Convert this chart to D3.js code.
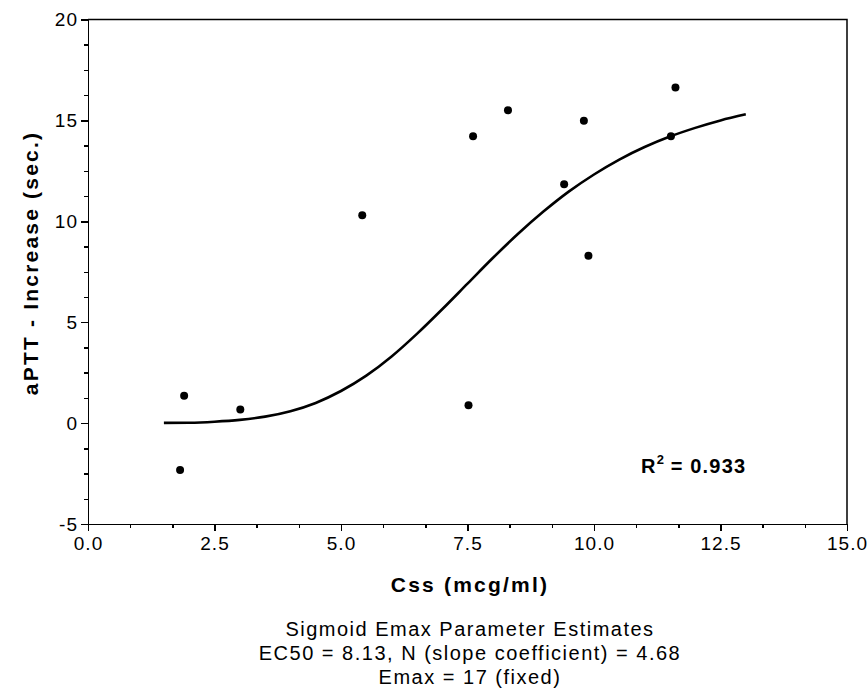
<!DOCTYPE html>
<html>
<head>
<meta charset="utf-8">
<script src="https://cdn.jsdelivr.net/npm/d3@7"></script>
<style>
  body { margin: 0; background: #fff; }
  svg { display: block; }
  .tick text { font-family: 'Liberation Sans', Arial, sans-serif; font-size: 19px; letter-spacing: 1px; fill: #000; }
  .axis path, .axis line { stroke: #000; stroke-width: 1.5px; shape-rendering: crispEdges; }
  .label { font-family: 'Liberation Sans', Arial, sans-serif; font-weight: bold; font-size: 21px; letter-spacing: 2.2px; }
  .note { font-family: 'Liberation Sans', Arial, sans-serif; font-size: 20px; letter-spacing: 1.5px; }
</style>
</head>
<body>
<svg id="chart" width="868" height="690"></svg>
<script>
// observed points: Css (mcg/ml) vs aPTT increase (sec.)
let cssObs = [1.82, 1.90, 3.01, 5.42, 7.52, 7.61, 8.30, 9.41, 9.80, 9.89, 11.52, 11.61]
let apttObs = [-2.33, 1.35, 0.68, 10.3, 0.89, 14.22, 15.5, 11.83, 14.98, 8.29, 14.22, 16.63]

// fitted curve
let cssFit = [1.5, 2.0, 2.5, 3.0, 3.5, 4.0, 4.5, 5.0, 5.5, 6.0, 6.5, 7.0, 7.5, 8.0,
              8.5, 9.0, 9.5, 10.0, 10.5, 11.0, 11.5, 12.0, 12.5, 13.0]
let apttFit = [0.01, 0.02, 0.07, 0.16, 0.32, 0.59, 1.0, 1.59, 2.35, 3.3, 4.42, 5.64, 6.91, 8.18,
               9.38, 10.48, 11.47, 12.32, 13.06, 13.68, 14.2, 14.63, 15.0, 15.3]

let xTicks = [0, 2.5, 5, 7.5, 10, 12.5, 15]
let yTicks = [-5, 0, 5, 10, 15, 20]

let notes = ['Sigmoid Emax Parameter Estimates',
             'EC50 = 8.13, N (slope coefficient) = 4.68',
             'Emax = 17 (fixed)']

let plotLeft = 88, plotRight = 847, plotTop = 19.5, plotBottom = 524

let svg = d3.select('#chart')

let xScale = d3.scaleLinear().domain([0, 15]).range([plotLeft, plotRight])
let yScale = d3.scaleLinear().domain([-5, 20]).range([plotBottom, plotTop])

// frame (top and right)
svg.append('path')
    .attr('d', `M${plotLeft},${plotTop}H${plotRight}V${plotBottom}`)
    .attr('fill', 'none')
    .attr('stroke', '#000')
    .attr('stroke-width', 1.5)

// minor ticks
let xMinor = d3.range(0, 15.001, 2.5 / 3)
let yMinor = d3.range(-5, 20.001, 1.25)
svg.append('g')
    .attr('class', 'axis')
    .attr('transform', `translate(0, ${plotBottom})`)
    .call(d3.axisBottom(xScale).tickValues(xMinor).tickSize(4).tickFormat(''))
svg.append('g')
    .attr('class', 'axis')
    .attr('transform', `translate(${plotLeft}, 0)`)
    .call(d3.axisLeft(yScale).tickValues(yMinor).tickSize(4).tickFormat(''))

//x and y axis
svg.append('g')
    .attr('class', 'axis')
    .attr('transform', `translate(0, ${plotBottom})`)
    .call(d3.axisBottom(xScale).tickValues(xTicks).tickSize(7).tickSizeOuter(0)
        .tickPadding(6).tickFormat(d3.format('.1f')))
svg.append('g')
    .attr('class', 'axis')
    .attr('transform', `translate(${plotLeft}, 0)`)
    .call(d3.axisLeft(yScale).tickValues(yTicks).tickSize(7).tickSizeOuter(0)
        .tickPadding(3).tickFormat(function (d) { return String(d) }))

// fitted line
let line = d3.line()
    .x(function (d, i) { return xScale(cssFit[i]) })
    .y(function (d, i) { return yScale(apttFit[i]) })
    .curve(d3.curveMonotoneX)
svg.append('path')
    .datum(cssFit)
    .attr('d', line)
    .attr('fill', 'none')
    .attr('stroke', '#000')
    .attr('stroke-width', 2.6)

// points
svg.selectAll('.dot')
    .data(cssObs)
    .enter()
    .append('circle')
    .attr('class', 'dot')
    .attr('cx', function (d, i) { return xScale(cssObs[i]) })
    .attr('cy', function (d, i) { return yScale(apttObs[i]) })
    .attr('r', 4)
    .attr('fill', '#000')

// R squared
let r2 = svg.append('text')
    .attr('x', 641)
    .attr('y', 473)
    .attr('class', 'label')
    .style('font-size', '20px')
    .style('letter-spacing', '1.2px')
r2.append('tspan').text('R')
r2.append('tspan').text('2').attr('dy', -9).style('font-size', '13px').style('letter-spacing', '0px')
r2.append('tspan').text(' = 0.933').attr('dy', 9)

//labels for axes
svg.append('text')
    .attr('class', 'label')
    .attr('text-anchor', 'middle')
    .attr('x', 470)
    .attr('y', 592)
    .text('Css (mcg/ml)')
svg.append('text')
    .attr('class', 'label')
    .attr('text-anchor', 'middle')
    .attr('transform', `translate(38, 263) rotate(270)`)
    .text('aPTT - Increase (sec.)')

// parameter estimates
svg.selectAll('.note')
    .data(notes)
    .enter()
    .append('text')
    .attr('class', 'note')
    .attr('text-anchor', 'middle')
    .attr('x', 470)
    .attr('y', function (d, i) { return 636 + i * 24 })
    .text(function (d) { return d })
</script>
</body>
</html>
